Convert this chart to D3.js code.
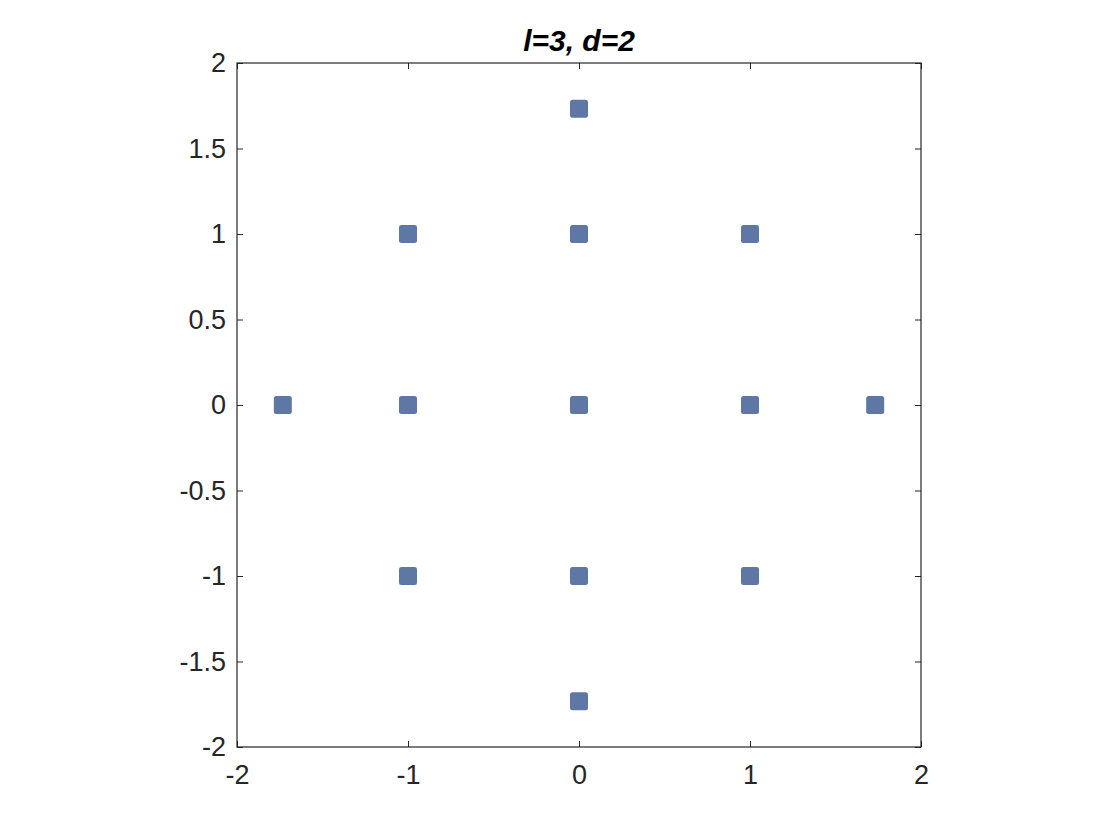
<!DOCTYPE html>
<html><head><meta charset="utf-8">
<script src="https://cdn.jsdelivr.net/npm/d3@7"></script>
<style>body{margin:0;background:#fff}svg{display:block}text{font-family:"Liberation Sans",Arial,sans-serif}</style>
</head><body>
<script>
const title = "l=3, d=2";
const xValues = [0, 0, -1.732, -1, 0, 1, 1.732, -1, 0, 1, -1, 0, 1];
const yValues = [1.732, -1.732, 0, 0, 0, 0, 0, 1, 1, 1, -1, -1, -1];
const xTicks = [-2, -1, 0, 1, 2];
const yTicks = [-2, -1.5, -1, -0.5, 0, 0.5, 1, 1.5, 2];

const W = 1120, H = 840;
const m = {left: 237, right: 921, top: 63, bottom: 747};
const svg = d3.select("body").append("svg").attr("width", W).attr("height", H);
const x = d3.scaleLinear().domain([-2, 2]).range([m.left, m.right]);
const y = d3.scaleLinear().domain([-2, 2]).range([m.bottom, m.top]);
const fmt = d => String(d);

const tick = 6;
const gx = svg.append("g").attr("transform", `translate(0,${m.bottom})`)
  .call(d3.axisBottom(x).tickValues(xTicks).tickSizeInner(-tick).tickSizeOuter(0).tickPadding(18).tickFormat(fmt));
const gx2 = svg.append("g").attr("transform", `translate(0,${m.top})`)
  .call(d3.axisTop(x).tickValues(xTicks).tickSizeInner(-tick).tickSizeOuter(0).tickFormat(""));
const gy = svg.append("g").attr("transform", `translate(${m.left},0)`)
  .call(d3.axisLeft(y).tickValues(yTicks).tickSizeInner(-tick).tickSizeOuter(0).tickPadding(11).tickFormat(fmt));
const gy2 = svg.append("g").attr("transform", `translate(${m.right},0)`)
  .call(d3.axisRight(y).tickValues(yTicks).tickSizeInner(-tick).tickSizeOuter(0).tickFormat(""));
[gx, gx2, gy, gy2].forEach(g => {
  g.attr("font-size", null).attr("font-family", null);
  g.select(".domain").remove();
  g.selectAll("line").attr("stroke", "#262626");
  g.selectAll("text").style("font-size", "27px").attr("fill", "#262626");
});
gx.selectAll("text").attr("dy", "0.71em");

svg.append("rect").attr("x", m.left).attr("y", m.top)
  .attr("width", m.right - m.left).attr("height", m.bottom - m.top)
  .attr("fill", "none").attr("stroke", "#262626").attr("stroke-width", 1.2);

const s = 18;
svg.append("g").selectAll("rect").data(xValues.map((v, i) => [v, yValues[i]])).join("rect")
  .attr("x", d => x(d[0]) - s / 2).attr("y", d => y(d[1]) - s / 2)
  .attr("width", s).attr("height", s).attr("rx", 2.5)
  .attr("fill", "#5E77A4");

svg.append("text").attr("x", (m.left + m.right) / 2).attr("y", 51)
  .attr("text-anchor", "middle").style("font-size", "30px").attr("font-weight", "bold")
  .attr("font-style", "italic").attr("fill", "#000").text(title);
</script>
</body></html>
